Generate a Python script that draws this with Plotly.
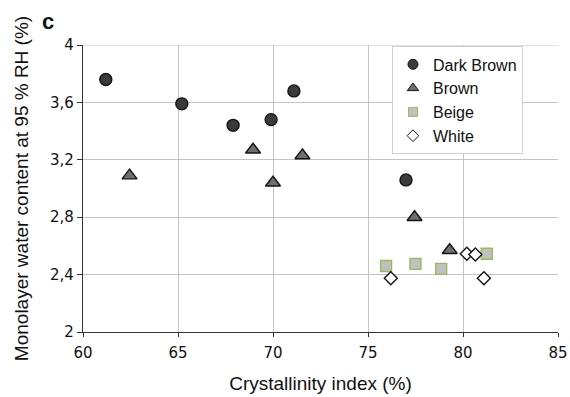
import plotly.graph_objects as go

# Crystallinity index (%) and monolayer water content (%) per colour class
dark_brown_x = [61.2, 65.2, 67.9, 69.9, 71.1, 77.0]
dark_brown_y = [3.76, 3.59, 3.44, 3.48, 3.68, 3.06]

brown_x = [62.45, 68.95, 70.0, 71.55, 77.45, 79.3]
brown_y = [3.09, 3.27, 3.04, 3.23, 2.80, 2.57]

beige_x = [75.95, 77.5, 78.85, 81.25]
beige_y = [2.46, 2.475, 2.44, 2.545]

white_x = [76.2, 80.2, 80.65, 81.1]
white_y = [2.375, 2.545, 2.54, 2.375]

x_ticks = [60, 65, 70, 75, 80, 85]
y_ticks = [2.0, 2.4, 2.8, 3.2, 3.6, 4.0]
y_tick_labels = ["2", "2,4", "2,8", "3,2", "3,6", "4"]

series = [
    dict(name="Dark Brown", x=dark_brown_x, y=dark_brown_y, symbol="circle",
         size=12, fill="#3a3a3a", line="#151515", lsize=10),
    dict(name="Brown", x=brown_x, y=brown_y, symbol="triangle-up",
         size=13, fill="#6f6f6f", line="#151515", lsize=10),
    dict(name="Beige", x=beige_x, y=beige_y, symbol="square",
         size=11, fill="#c0c0c0", line="#9bbb59", lsize=9),
    dict(name="White", x=white_x, y=white_y, symbol="diamond",
         size=10, fill="#ffffff", line="#151515", lsize=9),
]

L, R, T, B = 82.5, 11.7, 44.6, 64.7
W, H = 570, 397

fig = go.Figure()
for s in series:
    fig.add_trace(go.Scatter(
        x=s["x"], y=s["y"], mode="markers", name=s["name"], showlegend=False,
        marker=dict(symbol=s["symbol"], size=s["size"], color=s["fill"],
                    line=dict(color=s["line"], width=1.4)),
    ))
# legend entries with smaller symbols
for s in series:
    fig.add_trace(go.Scatter(
        x=[None], y=[None], mode="markers", name=s["name"],
        marker=dict(symbol=s["symbol"], size=s["lsize"], color=s["fill"],
                    line=dict(color=s["line"], width=1)),
    ))

axis_font = dict(family="DejaVu Sans", size=15, color="#111111")
pw, ph = W - L - R, H - T - B
fig.update_layout(
    width=W, height=H,
    margin=dict(l=L, r=R, t=T, b=B),
    paper_bgcolor="white", plot_bgcolor="white",
    showlegend=True,
    legend=dict(x=(392 - L) / pw, y=(H - B - 46) / ph,
                xanchor="left", yanchor="top",
                bgcolor="white", bordercolor="#d0d0d0", borderwidth=1,
                font=dict(family="Liberation Sans", size=16, color="#111111"),
                itemwidth=30, tracegroupgap=0),
    xaxis=dict(range=[60, 85], tickvals=x_ticks, showgrid=True,
               gridcolor="#c4c4c4", gridwidth=1, showline=True,
               linecolor="#333333", linewidth=1.2, ticks="outside",
               ticklen=4, tickcolor="#333333", tickfont=axis_font,
               ticklabelstandoff=3,
               zeroline=False, automargin=False,
               title=dict(text="Crystallinity index (%)", standoff=15,
                          font=dict(family="Liberation Sans", size=19,
                                    color="#111111"))),
    yaxis=dict(range=[2, 4], tickvals=y_ticks, ticktext=y_tick_labels,
               showgrid=True, gridcolor="#c4c4c4", gridwidth=1,
               showline=True, linecolor="#333333", linewidth=1.2,
               ticks="outside", ticklen=5, tickcolor="#333333",
               tickfont=axis_font, zeroline=False, automargin=False,
               title=dict(text="Monolayer water content at 95 % RH (%)",
                          standoff=16,
                          font=dict(family="Liberation Sans", size=19,
                                    color="#111111"))),
    annotations=[dict(text="<b>c</b>", x=(39 - L) / pw, y=(H - B - 21) / ph,
                      xref="paper", yref="paper",
                      showarrow=False, xanchor="left", yanchor="middle",
                      font=dict(family="Liberation Sans", size=22,
                                color="#111111"))],
)

# top grid edge
fig.add_shape(type="line", xref="x", yref="y", x0=60, x1=85, y0=4, y1=4,
              line=dict(color="#c4c4c4", width=1), layer="below")

fig.write_html("out.html")
